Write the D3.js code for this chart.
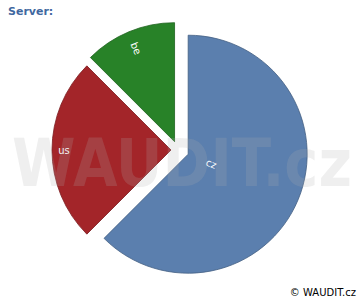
<!DOCTYPE html>
<html>
<head>
<meta charset="utf-8">
<script src="https://cdn.jsdelivr.net/npm/d3@7"></script>
<style>
  body { margin: 0; background: #fff; }
  svg { display: block; font-family: "DejaVu Sans", sans-serif; }
</style>
</head>
<body>
<div id="chart"></div>
<script>
// data
var servers = ['cz', 'us', 'be'];
var counts = [5, 2, 1];
var colors = ['#5b7fae', '#a32529', '#288228'];

var width = 360,
    height = 300,
    radius = 119,
    cx = 178,
    cy = 150;

// how far each slice is pulled out, and where its label sits
var explode = {cz: 11, us: 7, be: 9};
var labelR = {cz: 25, us: 107, be: 101};

var svg = d3.select('#chart').append('svg')
    .attr('width', width)
    .attr('height', height);

svg.append('text')
    .attr('x', 8).attr('y', 15)
    .attr('font-size', 11).attr('font-weight', 'bold')
    .attr('fill', '#3f68a0')
    .text('Server:');

var pie = d3.pie().sort(null).value(function(d) { return d.v; });
var arc = d3.arc().innerRadius(0).outerRadius(radius);

var rows = servers.map(function(s, i) { return {name: s, v: counts[i], color: colors[i]}; });
var arcs = pie(rows);

var vis = svg.append('g')
    .attr('transform', 'translate(' + cx + ',' + cy + ')');

var slices = vis.selectAll('g.slice').data(arcs)
  .enter().append('g')
    .attr('class', 'slice')
    .attr('transform', function(d) {
        var a = (d.startAngle + d.endAngle) / 2,
            e = explode[d.data.name];
        return 'translate(' + (Math.sin(a) * e) + ',' + (-Math.cos(a) * e) + ')';
    });

slices.append('path')
    .attr('d', arc)
    .attr('fill', function(d) { return d.data.color; })
    .attr('stroke', function(d) { return d3.color(d.data.color).darker(0.8); })
    .attr('stroke-width', 0.8);

slices.append('text')
    .attr('transform', function(d) {
        var a = (d.startAngle + d.endAngle) / 2,
            r = labelR[d.data.name];
        var rot = a * 180 / Math.PI - 90;
        if (rot > 90) rot -= 180;
        if (rot < -90) rot += 180;
        return 'translate(' + (Math.sin(a) * r) + ',' + (-Math.cos(a) * r) + ') rotate(' + rot + ')';
    })
    .attr('text-anchor', 'middle')
    .attr('dy', '0.35em')
    .attr('font-size', 10)
    .attr('fill', '#fff')
    .text(function(d) { return d.data.name; });

// watermark, drawn over the pie
svg.append('text')
    .attr('x', 12).attr('y', 186)
    .attr('textLength', 340)
    .attr('lengthAdjust', 'spacingAndGlyphs')
    .attr('font-size', 66).attr('font-weight', 'bold')
    .attr('fill', '#b0b0b0').attr('fill-opacity', 0.2)
    .style('pointer-events', 'none')
    .text('WAUDIT.cz');

svg.append('text')
    .attr('x', 356).attr('y', 296)
    .attr('text-anchor', 'end')
    .attr('font-size', 10)
    .attr('fill', '#000')
    .text('\u00a9 WAUDIT.cz');
</script>
</body>
</html>
